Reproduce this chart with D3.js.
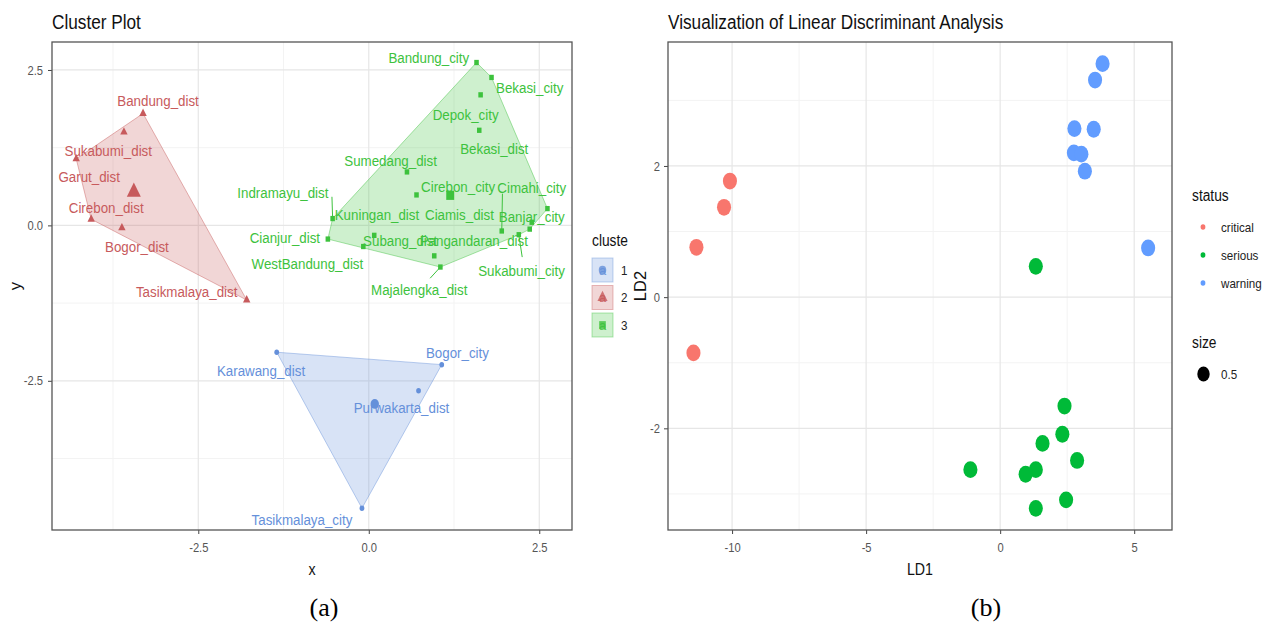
<!DOCTYPE html>
<html>
<head>
<meta charset="utf-8">
<script src="https://cdn.jsdelivr.net/npm/d3@7"></script>
<style>
body { margin: 0; background: #fff; }
text { font-family: "Liberation Sans", Arial, sans-serif; }
</style>
</head>
<body>
<svg id="fig" width="1269" height="626"></svg>
<script>
// ---- (a) cluster plot data ----
const regionNames = [
  "Karawang_dist", "Bogor_city", "Purwakarta_dist", "Tasikmalaya_city",
  "Bandung_dist", "Sukabumi_dist", "Garut_dist", "Cirebon_dist", "Bogor_dist", "Tasikmalaya_dist",
  "Bandung_city", "Bekasi_city", "Depok_city", "Bekasi_dist", "Sumedang_dist", "Cirebon_city",
  "Cimahi_city", "Banjar_city", "Ciamis_dist", "Kuningan_dist", "Sukabumi_city", "Indramayu_dist",
  "Cianjur_dist", "WestBandung_dist", "Subang_dist", "Pangandaran_dist", "Majalengka_dist"
];
const regionCluster = [1, 1, 1, 1, 2, 2, 2, 2, 2, 2, 3, 3, 3, 3, 3, 3, 3, 3, 3, 3, 3, 3, 3, 3, 3, 3, 3];
const dimX = [-1.35, 1.07, 0.73, -0.10,
  -3.31, -3.59, -4.29, -4.07, -3.62, -1.79,
  1.58, 1.80, 1.64, 1.62, 0.56, 0.70, 1.95, 2.62, 2.39, 2.36, 2.20, -0.53, -0.60, -0.08, 0.08, 0.96, 1.05];
const dimY = [-2.04, -2.24, -2.66, -4.55,
  1.80, 1.50, 1.07, 0.10, -0.04, -1.20,
  2.62, 2.38, 2.10, 1.53, 0.86, 0.49, -0.09, 0.27, 0.05, -0.06, -0.15, 0.11, -0.22, -0.34, -0.16, -0.49, -0.67];
// where the repelled labels ended up (data units)
const labelX = [-1.58, 1.30, 0.48, -0.98,
  -3.09, -3.82, -4.10, -3.85, -3.40, -2.67,
  0.88, 2.36, 1.42, 1.84, 0.32, 1.31, 2.39, 2.39, 1.33, 0.12, 2.24, -1.26, -1.23, -0.90, 0.46, 1.54, 0.74];
const labelY = [-2.34, -2.04, -2.93, -4.73,
  2.00, 1.20, 0.78, 0.29, -0.34, -1.06,
  2.70, 2.22, 1.79, 1.24, 1.05, 0.62, 0.61, 0.14, 0.18, 0.17, -0.72, 0.52, -0.19, -0.62, -0.25, -0.25, -1.03];
const segments = [
  { name: "Indramayu_dist", x: -0.54, y: 0.46 },
  { name: "Cimahi_city", x: 1.96, y: 0.51 },
  { name: "Sukabumi_city", x: 2.25, y: -0.51 },
  { name: "Majalengka_dist", x: 0.90, y: -0.85 }
];
const clusterIds = [1, 2, 3];
const clusterColors = { 1: "#6590da", 2: "#c75a5c", 3: "#3dc23d" };
const clusterShapes = { 1: d3.symbolCircle, 2: d3.symbolTriangle, 3: d3.symbolSquare };
const xTicksA = [-2.5, 0, 2.5];
const yTicksA = [-2.5, 0, 2.5];

// ---- (b) LDA data ----
const statusLevels = ["critical", "serious", "warning"];
const statusColors = ["#f8766d", "#00ba38", "#619cff"];
const ldStatus = [
  "critical", "critical", "critical", "critical",
  "serious", "serious", "serious", "serious", "serious", "serious", "serious", "serious", "serious", "serious",
  "warning", "warning", "warning", "warning", "warning", "warning", "warning", "warning"
];
const ld1 = [-10.08, -10.30, -11.33, -11.44,
  1.33, 2.40, 2.32, 1.58, 2.87, -1.11, 1.33, 0.95, 2.46, 1.33,
  3.82, 3.54, 2.77, 3.49, 2.75, 3.03, 3.16, 5.52];
const ld2 = [1.77, 1.37, 0.76, -0.85,
  0.47, -1.66, -2.09, -2.23, -2.49, -2.63, -2.63, -2.70, -3.09, -3.22,
  3.56, 3.31, 2.57, 2.56, 2.20, 2.18, 1.92, 0.75];
const xTicksB = [-10, -5, 0, 5];
const yTicksB = [-2, 0, 2];

const SQ = 0.86; // the source image is squeezed horizontally
const svg = d3.select("#fig");

function grid(g, x, y, majX, minX, majY, minY) {
  const [x0, x1] = x.range(), [y0, y1] = y.range();
  g.selectAll(".gminx").data(minX).enter().append("line")
    .attr("x1", d => x(d)).attr("x2", d => x(d)).attr("y1", y0).attr("y2", y1)
    .attr("stroke", "#f3f3f3").attr("stroke-width", 1);
  g.selectAll(".gminy").data(minY).enter().append("line")
    .attr("y1", d => y(d)).attr("y2", d => y(d)).attr("x1", x0).attr("x2", x1)
    .attr("stroke", "#f3f3f3").attr("stroke-width", 1);
  g.selectAll(".gmajx").data(majX).enter().append("line")
    .attr("x1", d => x(d)).attr("x2", d => x(d)).attr("y1", y0).attr("y2", y1)
    .attr("stroke", "#e6e6e6").attr("stroke-width", 1.2);
  g.selectAll(".gmajy").data(majY).enter().append("line")
    .attr("y1", d => y(d)).attr("y2", d => y(d)).attr("x1", x0).attr("x2", x1)
    .attr("stroke", "#e6e6e6").attr("stroke-width", 1.2);
}

function frame(g, x, y, xt, yt, fmt, ypad) {
  const [x0, x1] = x.range(), [y0, y1] = y.range();
  const ax = g.append("g").attr("transform", `translate(0,${y0})`)
    .call(d3.axisBottom(x).tickValues(xt).tickFormat(fmt).tickSize(4).tickPadding(9));
  const ay = g.append("g").attr("transform", `translate(${x0},0)`)
    .call(d3.axisLeft(y).tickValues(yt).tickFormat(fmt).tickSize(4).tickPadding(ypad));
  [ax, ay].forEach(a => {
    a.select(".domain").remove();
    a.selectAll("line").attr("stroke", "#444");
    a.selectAll("text").attr("fill", "#555").style("font-size", "13px").classed("sq", true);
  });
  g.append("rect").attr("x", x0).attr("y", y1).attr("width", x1 - x0).attr("height", y0 - y1)
    .attr("fill", "none").attr("stroke", "#555").attr("stroke-width", 1.3);
}

// ================= (a) =================
const xA = d3.scaleLinear().domain([-4.645, 2.98]).range([52, 572]);
const yA = d3.scaleLinear().domain([-4.90, 2.95]).range([530, 42]);
const gA = svg.append("g");
grid(gA, xA, yA, xTicksA, [-3.75, -1.25, 1.25], yTicksA, [-3.75, -1.25, 1.25]);

const pts = regionNames.map((n, i) => ({
  name: n, c: regionCluster[i], x: dimX[i], y: dimY[i], lx: labelX[i], ly: labelY[i]
}));

clusterIds.forEach(c => {
  const members = pts.filter(p => p.c === c);
  const hull = d3.polygonHull(members.map(p => [xA(p.x), yA(p.y)]));
  gA.append("path").attr("d", "M" + hull.join("L") + "Z")
    .attr("fill", clusterColors[c]).attr("fill-opacity", 0.25)
    .attr("stroke", clusterColors[c]).attr("stroke-opacity", 0.45).attr("stroke-width", 1);
});

segments.forEach(s => {
  const p = pts.find(q => q.name === s.name);
  gA.append("line")
    .attr("x1", xA(s.x)).attr("y1", yA(s.y)).attr("x2", xA(p.x)).attr("y2", yA(p.y))
    .attr("stroke", clusterColors[p.c]).attr("stroke-width", 1);
});

const smallSize = { 1: 24, 2: 32, 3: 28 };
gA.selectAll(".pt").data(pts).enter().append("path")
  .attr("d", d => d3.symbol(clusterShapes[d.c], smallSize[d.c])())
  .attr("transform", d => `translate(${xA(d.x)},${yA(d.y)}) scale(${SQ},1)`)
  .attr("fill", d => clusterColors[d.c]);

// cluster centres (mean of members)
const centers = clusterIds.map(c => {
  const m = pts.filter(p => p.c === c);
  return { c, x: d3.mean(m, p => p.x), y: d3.mean(m, p => p.y) };
});
const bigSize = { 1: 75, 2: 115, 3: 85 };
gA.selectAll(".ctr").data(centers).enter().append("path")
  .attr("d", d => d3.symbol(clusterShapes[d.c], bigSize[d.c])())
  .attr("transform", d => `translate(${xA(d.x)},${yA(d.y)}) scale(${SQ},1)`)
  .attr("fill", d => clusterColors[d.c]);

gA.selectAll(".lab").data(pts).enter().append("text")
  .attr("class", "sq")
  .attr("x", d => xA(d.lx)).attr("y", d => yA(d.ly)).attr("dy", "0.35em")
  .attr("text-anchor", "middle")
  .style("font-size", "15.5px")
  .attr("fill", d => clusterColors[d.c])
  .text(d => d.name);

frame(gA, xA, yA, xTicksA, yTicksA, d => d.toFixed(1), 5);

gA.append("text").attr("class", "sq").attr("x", 52).attr("y", 29)
  .style("font-size", "20px").attr("fill", "#111").text("Cluster Plot");
gA.append("text").attr("class", "sq").attr("x", 312).attr("y", 575).attr("text-anchor", "middle")
  .style("font-size", "16.5px").attr("fill", "#111").text("x");
gA.append("text").attr("transform", "translate(21,286) rotate(-90)").attr("text-anchor", "middle")
  .style("font-size", "16.5px").attr("fill", "#111").text("y");

// legend (a)
const legA = svg.append("g");
legA.append("text").attr("class", "sq").attr("x", 592).attr("y", 246)
  .style("font-size", "16px").attr("fill", "#111").text("cluste");
clusterIds.forEach((c, i) => {
  const cy = 270 + i * 27.5;
  legA.append("rect").attr("x", 592).attr("y", cy - 12).attr("width", 21).attr("height", 24)
    .attr("fill", clusterColors[c]).attr("fill-opacity", 0.25)
    .attr("stroke", clusterColors[c]).attr("stroke-opacity", 0.4);
  legA.append("path").attr("d", d3.symbol(clusterShapes[c], 60)())
    .attr("transform", `translate(602.5,${cy}) scale(${SQ},1)`)
    .attr("fill", clusterColors[c]).attr("fill-opacity", 0.8);
  legA.append("text").attr("x", 602.5).attr("y", cy).attr("dy", "0.35em").attr("text-anchor", "middle")
    .style("font-size", "13px").attr("fill", clusterColors[c]).attr("fill-opacity", 0.9).text("a");
  legA.append("text").attr("class", "sq").attr("x", 621).attr("y", cy).attr("dy", "0.35em")
    .style("font-size", "13.5px").attr("fill", "#222").text(String(c));
});

// ================= (b) =================
const xB = d3.scaleLinear().domain([-12.39, 6.41]).range([668, 1172]);
const yB = d3.scaleLinear().domain([-3.55, 3.89]).range([530, 42]);
const colorB = d3.scaleOrdinal().domain(statusLevels).range(statusColors);
const gB = svg.append("g");
grid(gB, xB, yB, xTicksB, [-7.5, -2.5, 2.5], yTicksB, [-3, -1, 1, 3]);

const ldPts = ld1.map((v, i) => ({ x: v, y: ld2[i], s: ldStatus[i] }));
gB.selectAll(".ld").data(ldPts).enter().append("ellipse")
  .attr("cx", d => xB(d.x)).attr("cy", d => yB(d.y))
  .attr("rx", 8.2 * SQ).attr("ry", 8.4)
  .attr("fill", d => colorB(d.s));

frame(gB, xB, yB, xTicksB, yTicksB, d => String(d), 4);

gB.append("text").attr("class", "sq").attr("x", 668).attr("y", 29)
  .style("font-size", "20px").attr("fill", "#111").text("Visualization of Linear Discriminant Analysis");
gB.append("text").attr("class", "sq").attr("x", 920).attr("y", 575).attr("text-anchor", "middle")
  .style("font-size", "16.5px").attr("fill", "#111").text("LD1");
gB.append("text").attr("transform", "translate(646,286) rotate(-90)").attr("text-anchor", "middle")
  .style("font-size", "16.5px").attr("fill", "#111").text("LD2");

// legend (b)
const legB = svg.append("g");
legB.append("text").attr("class", "sq").attr("x", 1192).attr("y", 201)
  .style("font-size", "16px").attr("fill", "#111").text("status");
statusLevels.forEach((s, i) => {
  const cy = 227 + i * 28;
  legB.append("ellipse").attr("cx", 1203).attr("cy", cy).attr("rx", 2.4).attr("ry", 2.8)
    .attr("fill", colorB(s));
  legB.append("text").attr("class", "sq").attr("x", 1221).attr("y", cy).attr("dy", "0.35em")
    .style("font-size", "13.5px").attr("fill", "#222").text(s);
});
legB.append("text").attr("class", "sq").attr("x", 1192).attr("y", 348)
  .style("font-size", "16px").attr("fill", "#111").text("size");
legB.append("ellipse").attr("cx", 1203.5).attr("cy", 374).attr("rx", 6.2).attr("ry", 7.5).attr("fill", "#000");
legB.append("text").attr("class", "sq").attr("x", 1221).attr("y", 374).attr("dy", "0.35em")
  .style("font-size", "13.5px").attr("fill", "#222").text("0.5");

// captions
svg.append("text").attr("x", 324).attr("y", 616).attr("text-anchor", "middle")
  .style("font-family", "'Liberation Serif', 'Times New Roman', serif").style("font-size", "26px")
  .attr("fill", "#000").text("(a)");
svg.append("text").attr("x", 986).attr("y", 616).attr("text-anchor", "middle")
  .style("font-family", "'Liberation Serif', 'Times New Roman', serif").style("font-size", "26px")
  .attr("fill", "#000").text("(b)");

// horizontal squeeze of text to match the source image
svg.selectAll("text.sq").each(function () {
  const w = this.getComputedTextLength();
  if (w > 0) {
    this.setAttribute("textLength", (w * SQ).toFixed(2));
    this.setAttribute("lengthAdjust", "spacingAndGlyphs");
  }
});
</script>
</body>
</html>
